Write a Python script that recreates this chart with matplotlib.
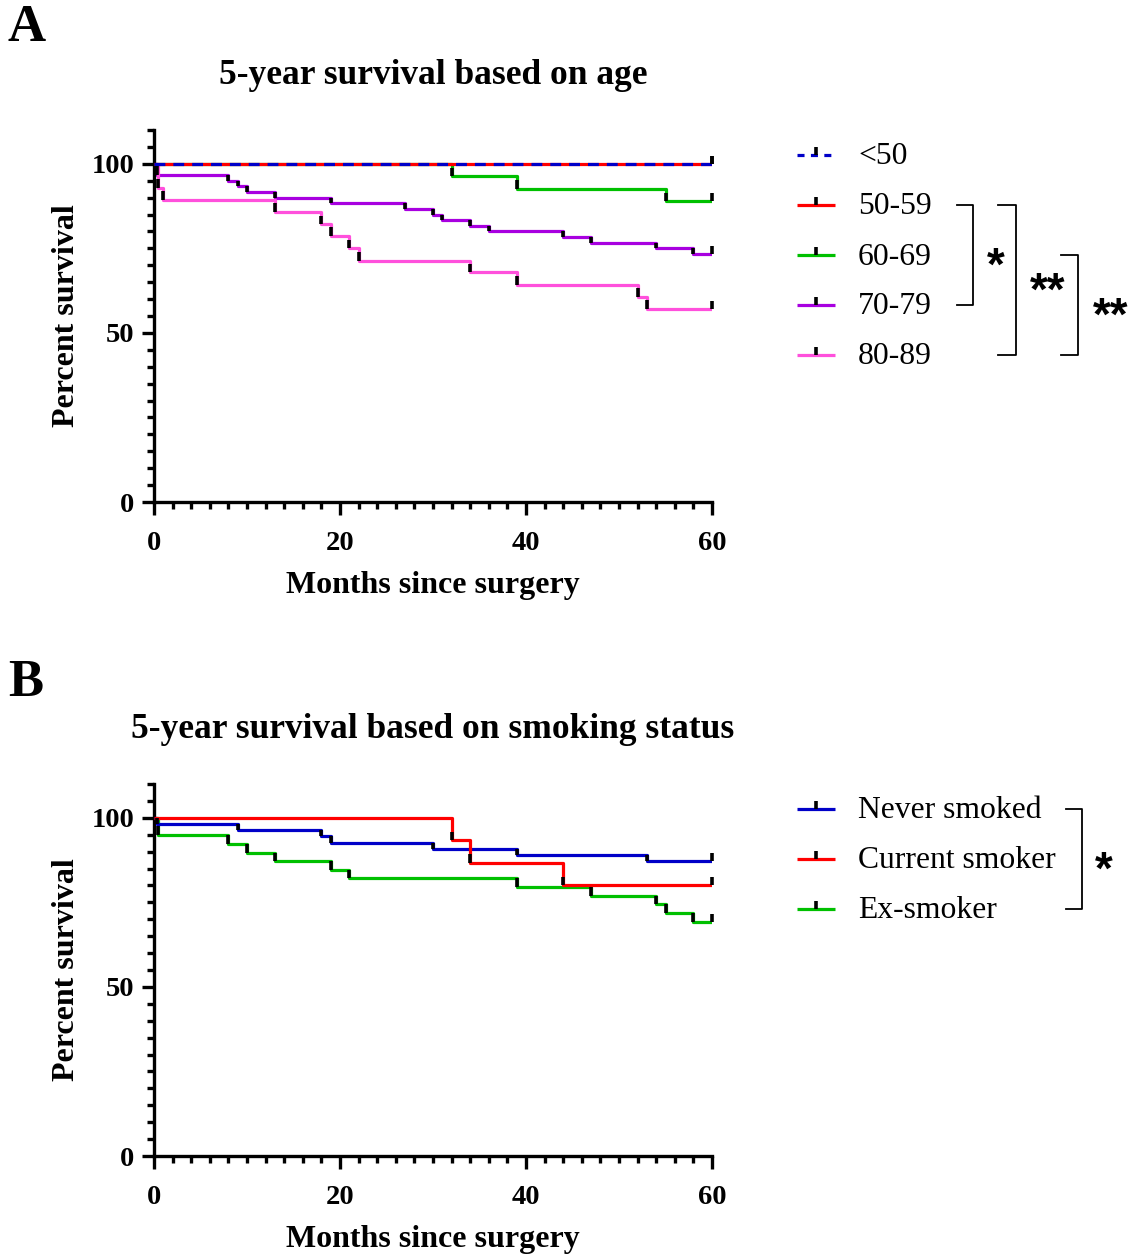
import numpy as np
import matplotlib
matplotlib.use('Agg')
from matplotlib import pyplot as plt
from matplotlib.lines import Line2D

plt.rcParams['font.family'] = ['Liberation Serif', 'DejaVu Serif']

W, H = 1143, 1254

# ---- data: drop times (months) and survival (%) after each drop ----
age_labels = ['<50', '50-59', '60-69', '70-79', '80-89']
age_colors = ['#0000C8', '#FF0000', '#00C000', '#A800E0', '#FF50DC']
lt50_t, lt50_s = [], []
a5059_t, a5059_s = [], []
a6069_t = [32, 39, 55]
a6069_s = [96.3, 92.6, 88.9]
a7079_t = [0.3, 8, 9, 10, 13, 19, 27, 30, 31, 34, 36, 44, 47, 54, 58]
a7079_s = [96.7, 95.0, 93.3, 91.7, 90.0, 88.3, 86.7, 85.0, 83.3, 81.7, 80.0,
           78.3, 76.7, 75.0, 73.3]
a8089_t = [0.4, 1, 13, 18, 19, 21, 22, 34, 39, 52, 53]
a8089_s = [92.9, 89.3, 85.7, 82.1, 78.6, 75.0, 71.4, 67.9, 64.3, 60.7, 57.1]

smoke_labels = ['Never smoked', 'Current smoker', 'Ex-smoker']
smoke_colors = ['#0000C8', '#FF0000', '#00C000']
never_t = [0.3, 9, 18, 19, 30, 39, 53]
never_s = [98.2, 96.4, 94.5, 92.7, 90.9, 89.1, 87.3]
current_t = [32, 34, 44]
current_s = [93.3, 86.7, 80.0]
ex_t = [0.4, 8, 10, 13, 19, 21, 39, 47, 54, 55, 58]
ex_s = [94.9, 92.3, 89.7, 87.2, 84.6, 82.1, 79.5, 76.9, 74.4, 71.8, 69.2]

END = 60


def fx(x):
    return x / W


def fy(y):
    return 1 - y / H


tick_up = [(0, 0), (0, 1)]


def km(ax, t, s, color, dashed=False, z=2):
    xs = [0] + list(t) + [END]
    ys = [100] + list(s) + [s[-1] if s else 100]
    kw = dict(where='post', color=color, lw=2.3, zorder=z, solid_capstyle='butt')
    if dashed:
        ln, = ax.step(xs, ys, **kw)
        ln.set_dashes((3.4, 2.5))
    else:
        ax.step(xs, ys, **kw)
    prev = 100
    for ti, si in zip(t, s):
        ax.vlines(ti, si, min(prev, si + 2.6), color='black', lw=2.6, zorder=20)
        prev = si
    ax.plot([END], [ys[-1]], marker=tick_up, ms=11, mew=2.6, color='black',
            zorder=20, clip_on=False)


def style(ax, title):
    ax.set_xlim(0, 60)
    ax.set_ylim(0, 110)
    for sp in ['top', 'right']:
        ax.spines[sp].set_visible(False)
    for sp in ['left', 'bottom']:
        ax.spines[sp].set_linewidth(2.4)
    ax.set_xticks([0, 20, 40, 60])
    ax.set_xticks(np.arange(0, 61, 2), minor=True)
    ax.set_yticks([0, 50, 100])
    ax.set_yticks(np.arange(0, 111, 5), minor=True)
    ax.tick_params(which='major', length=9, width=2.4, direction='out',
                   labelsize=20.5, pad=5)
    ax.tick_params(axis='x', which='major', pad=12)
    ax.tick_params(which='minor', length=5, width=2.4, direction='out')
    for lab in ax.get_xticklabels() + ax.get_yticklabels():
        lab.set_fontweight('bold')
    ax.set_xlabel('Months since surgery', fontsize=23, fontweight='bold', labelpad=11)
    ax.set_ylabel('Percent survival', fontsize=23, fontweight='bold', labelpad=8)
    ax.set_title(title, fontsize=25.5, fontweight='bold', pad=33)


def legend(fig, labels, colors, y0, dashed_first=False):
    for i, (lab, col) in enumerate(zip(labels, colors)):
        y = y0 + i * 50
        ln = Line2D([fx(797), fx(835)], [fy(y), fy(y)], transform=fig.transFigure,
                    color=col, lw=2.3, solid_capstyle='butt')
        if dashed_first and i == 0:
            ln.set_dashes((2.2, 2.0))
        fig.add_artist(ln)
        fig.add_artist(Line2D([fx(816)], [fy(y)], transform=fig.transFigure,
                              marker=tick_up, ms=11, mew=2.6, color='black'))
        fig.text(fx(858), fy(y + 2), lab, fontsize=22.8, va='center', ha='left')


def bracket(fig, x0, x1, ya, yb, star, sx):
    fig.add_artist(Line2D([fx(x0), fx(x1), fx(x1), fx(x0)],
                          [fy(ya), fy(ya), fy(yb), fy(yb)],
                          transform=fig.transFigure, color='black', lw=1.3))
    fig.text(fx(sx), fy((ya + yb) / 2 + 13), star, fontsize=33, fontweight='bold',
             ha='center', va='center', family=['Liberation Sans', 'DejaVu Sans'])


fig = plt.figure(figsize=(W / 100, H / 100), dpi=100)

axA = fig.add_axes([fx(154), fy(502), (712 - 154) / W, (502 - 130) / H])
km(axA, a6069_t, a6069_s, age_colors[2], z=2)
km(axA, a7079_t, a7079_s, age_colors[3], z=2)
km(axA, a8089_t, a8089_s, age_colors[4], z=2)
km(axA, a5059_t, a5059_s, age_colors[1], z=4)
km(axA, lt50_t, lt50_s, age_colors[0], dashed=True, z=5)
style(axA, '5-year survival based on age')

axB = fig.add_axes([fx(154), fy(1156), (712 - 154) / W, (1156 - 784) / H])
km(axB, ex_t, ex_s, smoke_colors[2], z=2)
km(axB, never_t, never_s, smoke_colors[0], z=3)
km(axB, current_t, current_s, smoke_colors[1], z=4)
style(axB, '5-year survival based on smoking status')

legend(fig, age_labels, age_colors, 155, dashed_first=True)
legend(fig, smoke_labels, smoke_colors, 809)

bracket(fig, 957, 973, 205, 305, '*', 996)
bracket(fig, 998, 1016, 205, 355, '**', 1048)
bracket(fig, 1061, 1078, 255, 355, '**', 1111)
bracket(fig, 1066, 1082, 809, 909, '*', 1104)

fig.text(fx(8), fy(28), 'A', fontsize=38, fontweight='bold', va='center', ha='left')
fig.text(fx(8), fy(683), 'B', fontsize=38, fontweight='bold', va='center', ha='left')

fig.savefig('out.png', dpi=100)
plt.close(fig)
